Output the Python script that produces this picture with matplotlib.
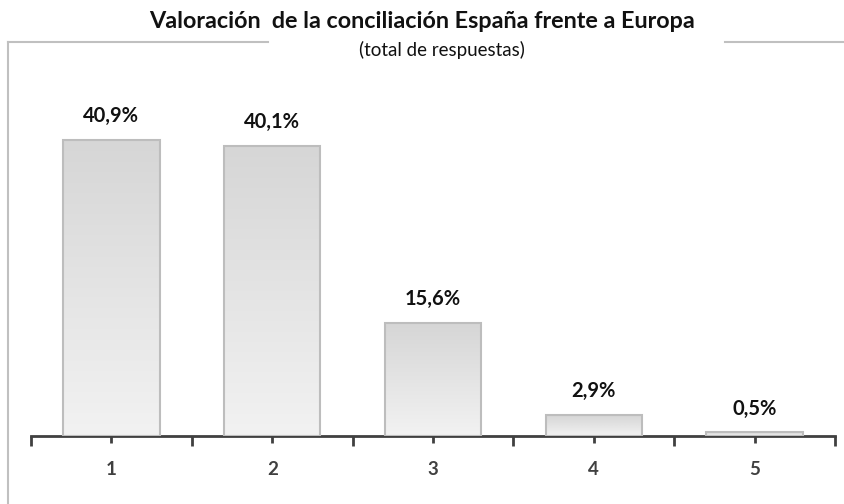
import numpy as np
import matplotlib
matplotlib.use("Agg")
from matplotlib import pyplot as plt
from matplotlib.lines import Line2D
from matplotlib.colors import LinearSegmentedColormap

categories = ["1", "2", "3", "4", "5"]
values = [40.9, 40.1, 15.6, 2.9, 0.5]
value_labels = ["40,9%", "40,1%", "15,6%", "2,9%", "0,5%"]

title = "Valoración  de la conciliación España frente a Europa"
subtitle = "(total de respuestas)"

plt.rcParams['font.family'] = ['Lato', 'DejaVu Sans']

W, H = 845, 504
fig = plt.figure(figsize=(W / 100, H / 100), dpi=100)

# axes placed in pixel terms: x-axis at y=436, category edges 31..835
ax = fig.add_axes([31 / W, (H - 436) / H, (835 - 31) / W, (436 - 100) / H])
ax.set_xlim(-0.5, 4.5)
ax.set_ylim(0, (436 - 100) / 7.24)
ax.patch.set_alpha(0)

grad = LinearSegmentedColormap.from_list("g", ["#f2f2f2", "#d6d6d6"])
x = np.arange(len(categories))
bars = ax.bar(x, values, width=0.6, color="none", edgecolor="#bdbdbd",
              linewidth=1.5, zorder=3)
for b in bars:
    x0, y0 = b.get_x(), b.get_y()
    w, h = b.get_width(), b.get_height()
    im = ax.imshow(np.linspace(0, 1, 100).reshape(-1, 1), cmap=grad,
                   origin="lower", extent=[x0, x0 + w, y0, y0 + h],
                   aspect="auto", zorder=2)
    im.set_clip_path(b)

ax.set_xlim(-0.5, 4.5)
ax.set_ylim(0, (436 - 100) / 7.24)

for xi, v, lab in zip(x, values, value_labels):
    ax.annotate(lab, (xi, v), xytext=(0, 10), textcoords="offset points",
                ha="center", va="bottom", fontsize=14.5, fontweight="bold",
                color="#111111")

for s in ["top", "right", "left"]:
    ax.spines[s].set_visible(False)
ax.spines["bottom"].set_color("#404040")
ax.spines["bottom"].set_linewidth(2)
ax.set_yticks([])
ax.set_xticks(np.arange(-0.5, 5, 1.0))
ax.set_xticklabels([])
ax.set_xticks(x, minor=True)
ax.set_xticklabels(categories, minor=True, fontsize=13.5, fontweight="bold",
                   color="#404040")
ax.tick_params(axis="x", which="major", length=7, width=2, color="#404040",
               direction="out")
ax.tick_params(axis="x", which="minor", length=5, width=2, color="#404040",
               direction="out", pad=13)

# chart frame, broken by the title
fc = "#c0c0c0"
fig.add_artist(Line2D([8 / W, 8 / W], [0, 1 - 42 / H], color=fc, lw=1.5,
                      transform=fig.transFigure))
fig.add_artist(Line2D([8 / W, 268 / W], [1 - 42 / H] * 2, color=fc, lw=1.5,
                      transform=fig.transFigure))
fig.add_artist(Line2D([725 / W, 1], [1 - 42 / H] * 2, color=fc, lw=1.5,
                      transform=fig.transFigure))

fig.text(422 / W, 1 - 21 / H, title, ha="center", va="center", fontsize=16.8,
         fontweight="bold", color="#111111")
fig.text(442 / W, 1 - 50 / H, subtitle, ha="center", va="center",
         fontsize=13.5, color="#111111")

fig.savefig("out.png", dpi=100)
